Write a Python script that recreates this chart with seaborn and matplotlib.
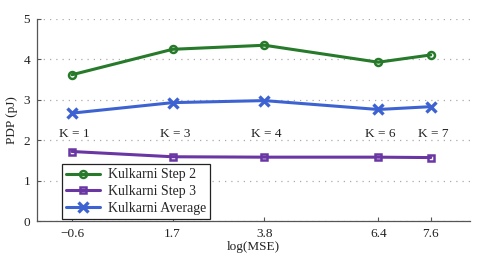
import matplotlib

matplotlib.use("Agg", force=True)
import matplotlib.pyplot as plt
import pandas as pd
import seaborn as sns

LOG_MSE = [-0.6, 1.7, 3.8, 6.4, 7.6]
K_LABELS = ["K = 1", "K = 3", "K = 4", "K = 6", "K = 7"]
STEP2 = [3.62, 4.25, 4.35, 3.93, 4.11]
STEP3 = [1.72, 1.59, 1.58, 1.58, 1.57]
AVERAGE = [2.67, 2.93, 2.98, 2.76, 2.83]
K_LABEL_Y = 2.15

SERIES = [
    ("Kulkarni Step 2", STEP2, "#267a2a", "o"),
    ("Kulkarni Step 3", STEP3, "#6a36a4", "s"),
    ("Kulkarni Average", AVERAGE, "#3d63d2", "x"),
]


def main() -> None:
    sns.set_theme(style="white")
    plt.rcParams["font.family"] = ["Liberation Serif", "DejaVu Serif"]
    plt.rcParams["font.size"] = 9

    fig = plt.figure(figsize=(4.85, 2.58), dpi=100)
    ax = fig.add_axes([0.0763, 0.1434, 0.893, 0.783])

    for name, values, color, marker in SERIES:
        df = pd.DataFrame({"x": LOG_MSE, "y": values})
        sns.lineplot(
            data=df, x="x", y="y", ax=ax, color=color, linewidth=2.2,
            marker=marker, markersize=5 if marker != "x" else 6.5,
            markerfacecolor="none", markeredgecolor=color,
            markeredgewidth=1.8 if marker != "x" else 2.4,
            label=name,
        )

    for x, lab in zip(LOG_MSE, K_LABELS):
        ax.text(x + 0.05, K_LABEL_Y, lab, ha="center", va="center", fontsize=9.5, color="#222222")

    ax.set_xlim(-1.4, 8.5)
    ax.set_ylim(0, 5)
    ax.set_xticks(LOG_MSE)
    ax.set_xticklabels(["\u22120.6", "1.7", "3.8", "6.4", "7.6"])
    ax.set_yticks(range(6))
    ax.yaxis.grid(True, linestyle=(0, (1, 4)), color="#aaaaaa", linewidth=0.9)
    ax.xaxis.grid(False)
    for side in ["top", "right"]:
        ax.spines[side].set_visible(False)
    for side in ["left", "bottom"]:
        ax.spines[side].set_color("#555555")
        ax.spines[side].set_linewidth(0.9)
    ax.tick_params(direction="in", length=3, width=0.8, color="#555555",
                   labelsize=9.5, labelcolor="#222222", pad=5,
                   bottom=True, left=True)
    ax.set_xlabel("log(MSE)", fontsize=9.5, color="#222222", labelpad=1)
    ax.set_ylabel("PDP (pJ)", fontsize=9.5, color="#222222", labelpad=4)

    leg = ax.legend(loc="lower left", bbox_to_anchor=(0.058, 0.008), fontsize=10,
                    frameon=True, fancybox=False, handlelength=2.4,
                    borderpad=0.3, labelspacing=0.28, handletextpad=0.6,
                    borderaxespad=0.0)
    leg.get_frame().set_edgecolor("#222222")
    leg.get_frame().set_linewidth(0.9)
    leg.get_frame().set_alpha(1.0)

    fig.savefig("out.png", dpi=100)
    plt.close(fig)


if __name__ == "__main__":
    main()
